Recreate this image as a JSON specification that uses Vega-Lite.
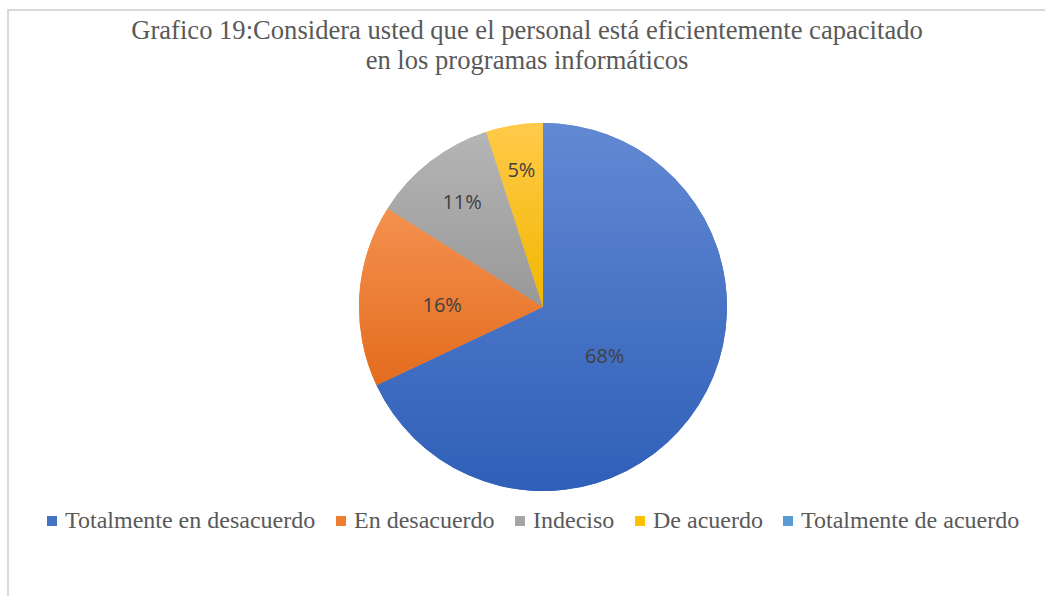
{
  "$schema": "https://vega.github.io/schema/vega-lite/v6.json",
  "width": 1070,
  "height": 594,
  "autosize": {"type": "none"},
  "padding": {"left": 8, "top": 10, "right": 0, "bottom": 0},
  "background": "white",
  "view": {"stroke": "#D9D9D9", "strokeWidth": 2},
  "config": {"view": {"stroke": "#D9D9D9", "strokeWidth": 2}},
  "title": {
    "text": ["Grafico 19:Considera usted que el personal está eficientemente capacitado", "en los programas informáticos"],
    "font": "Liberation Serif",
    "fontSize": 26.6,
    "fontWeight": "normal",
    "color": "#595959",
    "anchor": "middle",
    "frame": "group",
    "baseline": "top",
    "offset": -65,
    "dx": -16,
    "lineHeight": 30
  },
  "data": {
    "values": [
      {"categoria": "Totalmente en desacuerdo", "porcentaje": 68, "etiqueta": "68%", "orden": 1},
      {"categoria": "En desacuerdo", "porcentaje": 16, "etiqueta": "16%", "orden": 2},
      {"categoria": "Indeciso", "porcentaje": 11, "etiqueta": "11%", "orden": 3},
      {"categoria": "De acuerdo", "porcentaje": 5, "etiqueta": "5%", "orden": 4},
      {"categoria": "Totalmente de acuerdo", "porcentaje": 0, "etiqueta": "0%", "orden": 5}
    ]
  },
  "encoding": {
    "theta": {"field": "porcentaje", "type": "quantitative", "stack": true},
    "order": {"field": "orden", "type": "quantitative"}
  },
  "layer": [
    {
      "mark": {"type": "arc", "outerRadius": 184},
      "encoding": {
        "color": {
          "field": "categoria",
          "type": "nominal",
          "scale": {
            "domain": ["Totalmente en desacuerdo", "En desacuerdo", "Indeciso", "De acuerdo", "Totalmente de acuerdo"],
            "range": ["#4472C4", "#ED7D31", "#A5A5A5", "#FFC000", "#5B9BD5"]
          },
          "legend": {
            "orient": "none",
            "legendX": 32,
            "legendY": 499,
            "direction": "horizontal",
            "title": null,
            "symbolType": "square",
            "symbolSize": 100,
            "symbolStrokeWidth": 0,
            "labelFont": "Liberation Serif",
            "labelFontSize": 24,
            "labelColor": "#595959",
            "labelOffset": 1,
            "columnPadding": 13,
            "labelLimit": 400
          }
        }
      }
    },
    {
      "mark": {"type": "arc", "outerRadius": 184, "color": {"gradient": "linear", "x1": 0, "y1": 0, "x2": 0, "y2": 1, "stops": [{"offset": 0, "color": "#6289D3"}, {"offset": 1, "color": "#2F5FB8"}]}},
      "encoding": {"opacity": {"condition": {"test": "datum.orden == 1", "value": 1}, "value": 0}}
    },
    {
      "mark": {"type": "arc", "outerRadius": 184, "color": {"gradient": "linear", "x1": 0, "y1": 0, "x2": 0, "y2": 1, "stops": [{"offset": 0, "color": "#F4914F"}, {"offset": 1, "color": "#E36C1E"}]}},
      "encoding": {"opacity": {"condition": {"test": "datum.orden == 2", "value": 1}, "value": 0}}
    },
    {
      "mark": {"type": "arc", "outerRadius": 184, "color": {"gradient": "linear", "x1": 0, "y1": 0, "x2": 0, "y2": 1, "stops": [{"offset": 0, "color": "#B5B5B5"}, {"offset": 1, "color": "#989898"}]}},
      "encoding": {"opacity": {"condition": {"test": "datum.orden == 3", "value": 1}, "value": 0}}
    },
    {
      "mark": {"type": "arc", "outerRadius": 184, "color": {"gradient": "linear", "x1": 0, "y1": 0, "x2": 0, "y2": 1, "stops": [{"offset": 0, "color": "#FFCA4A"}, {"offset": 1, "color": "#F2B700"}]}},
      "encoding": {"opacity": {"condition": {"test": "datum.orden == 4", "value": 1}, "value": 0}}
    },
    {
      "mark": {"type": "text", "radius": 79, "dx": -5, "dy": 8, "font": "Open Sans", "fontSize": 20, "color": "#404040"},
      "encoding": {"text": {"condition": {"test": "datum.orden == 1", "field": "etiqueta"}, "value": ""}}
    },
    {
      "mark": {"type": "text", "radius": 103, "dx": 2, "dy": 5, "font": "Open Sans", "fontSize": 20, "color": "#404040"},
      "encoding": {"text": {"condition": {"test": "datum.orden == 2", "field": "etiqueta"}, "value": ""}}
    },
    {
      "mark": {"type": "text", "radius": 132, "font": "Open Sans", "fontSize": 20, "color": "#404040"},
      "encoding": {"text": {"condition": {"test": "datum.orden == 3", "field": "etiqueta"}, "value": ""}}
    },
    {
      "mark": {"type": "text", "radius": 138, "font": "Open Sans", "fontSize": 20, "color": "#404040"},
      "encoding": {"text": {"condition": {"test": "datum.orden == 4", "field": "etiqueta"}, "value": ""}}
    }
  ]
}
